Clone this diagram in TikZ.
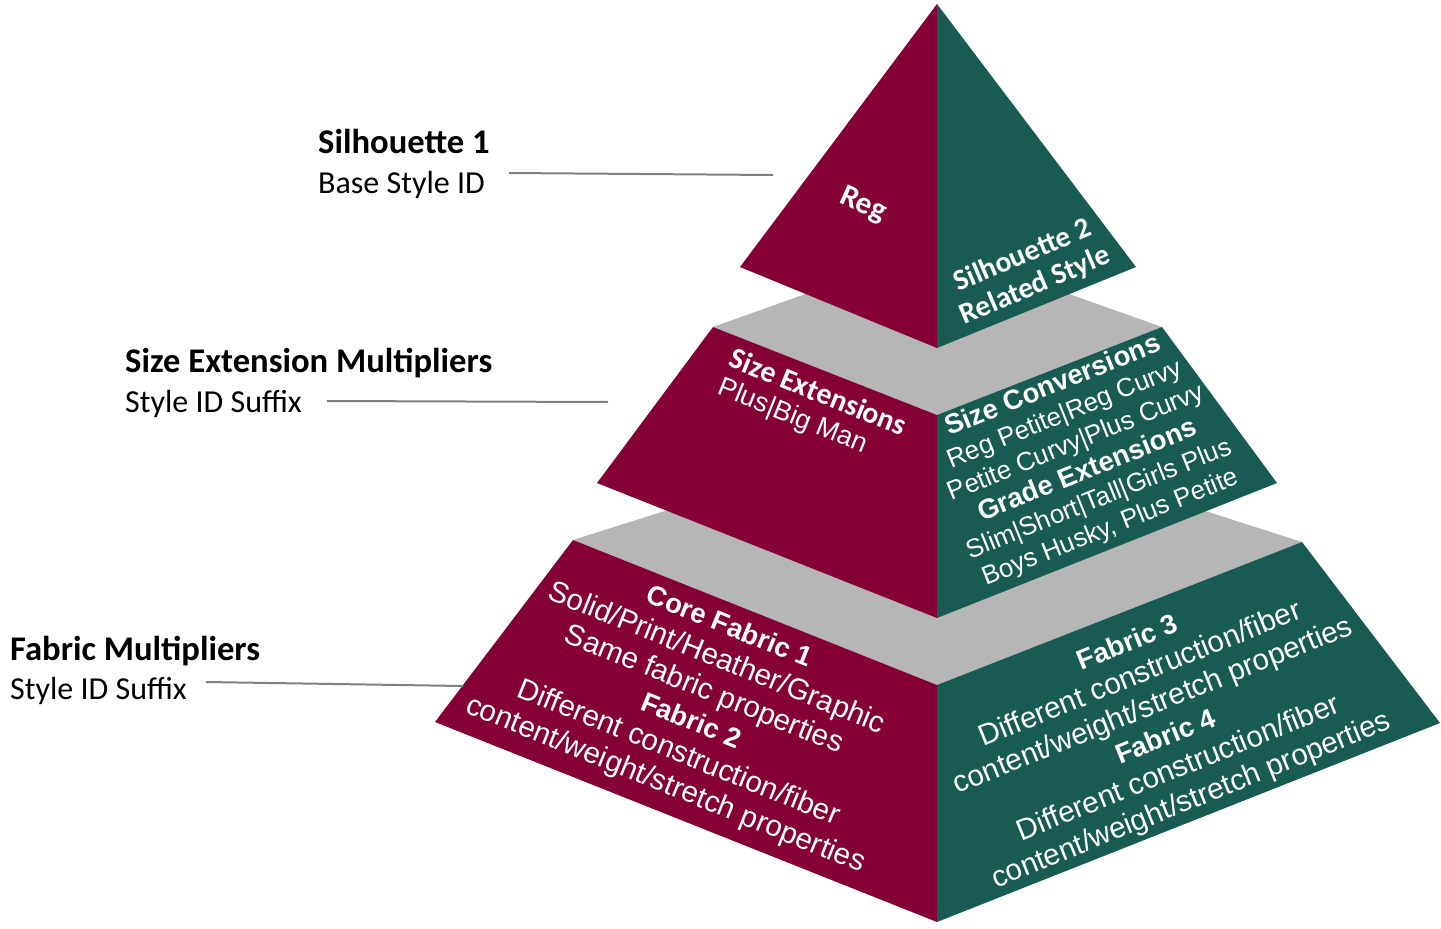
\documentclass[tikz,border=0pt]{standalone}
\usepackage{fontspec}
\setmainfont{Carlito}
\newfontfamily\arialf{Liberation Sans}
\definecolor{pyrmaroon}{HTML}{850035}
\definecolor{pyrgreen}{HTML}{175B53}
\definecolor{pyrgray}{HTML}{B6B6B6}
\definecolor{leadergray}{HTML}{808080}
\tikzset{
  lface/.style={fill=pyrmaroon},
  rface/.style={fill=pyrgreen},
  topface/.style={fill=pyrgray},
  facetext/.style={text=white, inner sep=0pt, align=center},
  lbl/.style={anchor=base west, inner sep=0pt, text=black},
  lblhead/.style={lbl, font=\fontsize{34.6}{40}\selectfont\bfseries},
  lblsub/.style={lbl, font=\fontsize{32}{40}\selectfont},
  leader/.style={draw=leadergray, line width=2pt},
}
\begin{document}
\begin{tikzpicture}[x=1pt,y=-1pt]
\useasboundingbox (0,0) rectangle (1441,929);
% --- geometry
\coordinate (A) at (937,4);
\coordinate (TL) at (740,267);
\coordinate (TR) at (1136,267);
\coordinate (TB) at (937,348);
\coordinate (ML) at (713,327);
\coordinate (MR) at (1162,327);
\coordinate (MF) at (937,415);
\coordinate (MBack) at (937,247);
\coordinate (MBL) at (597,483);
\coordinate (MBR) at (1277,483);
\coordinate (MBF) at (937,618);
\coordinate (BL) at (573,540);
\coordinate (BR) at (1302,542);
\coordinate (BF) at (937,685);
\coordinate (BBack) at (937,425);
\coordinate (BBL) at (435,722);
\coordinate (BBR) at (1440,723);
\coordinate (BBF) at (937,922);
% --- bottom tier
\fill[topface] (BL) -- (BBack) -- (BR) -- (BF) -- cycle;
\fill[lface] (BL) -- (BF) -- (BBF) -- (BBL) -- cycle;
\fill[rface] (BF) -- (BR) -- (BBR) -- (BBF) -- cycle;
% --- middle tier
\fill[topface] (ML) -- (MBack) -- (MR) -- (MF) -- cycle;
\fill[lface] (ML) -- (MF) -- (MBF) -- (MBL) -- cycle;
\fill[rface] (MF) -- (MR) -- (MBR) -- (MBF) -- cycle;
% --- top pyramid
\fill[lface] (A) -- (TB) -- (TL) -- cycle;
\fill[rface] (A) -- (TR) -- (TB) -- cycle;

% --- face texts
\node[facetext, rotate=-24, font=\fontsize{31}{34}\selectfont\bfseries] (reg) at (863,205) {Reg};
\node[facetext, rotate=23, font=\fontsize{29.5}{32.5}\selectfont\bfseries] (sil2) at (1029,271) {Silhouette 2\\Related Style};
\node[facetext, align=left, rotate=-22, font=\fontsize{27}{30}\selectfont] (sizeext) at (812,408)
  {{\fontsize{30}{30}\selectfont\bfseries Size Extensions}\\{\arialf Plus|Big Man}};
\node[facetext, rotate=22, font=\arialf\fontsize{26}{30.5}\selectfont] (sizeconv) at (1082,457)
  {{\fontsize{27.5}{30.5}\selectfont\bfseries Size Conversions}\\Reg Petite|Reg Curvy\\Petite Curvy|Plus Curvy\\{\fontsize{27.5}{30.5}\selectfont\bfseries Grade Extensions}\\Slim|Short|Tall|Girls Plus\\Boys Husky, Plus Petite};
\node[facetext, rotate=-22, font=\arialf\fontsize{29.6}{34}\selectfont] (fab12) at (697,707)
  {{\fontsize{27.5}{34}\selectfont\bfseries Core Fabric 1}\\Solid/Print/Heather/Graphic\\Same fabric properties\\{\fontsize{27.5}{34}\selectfont\bfseries Fabric 2}\\Different construction/fiber\\content/weight/stretch properties};
\node[facetext, rotate=22, font=\arialf\fontsize{29.6}{34}\selectfont] (fab34) at (1160,723)
  {{\fontsize{27.5}{34}\selectfont\bfseries Fabric 3}\\Different construction/fiber\\content/weight/stretch properties\\{\fontsize{27.5}{34}\selectfont\bfseries Fabric 4}\\Different construction/fiber\\content/weight/stretch properties};

% --- side labels
\node[lblhead] (t1) at (318,153) {Silhouette 1};
\node[lblsub] (d1) at (318,193) {Base Style ID};
\node[lblhead] (t2) at (125,372) {Size Extension Multipliers};
\node[lblsub] (d2) at (125,412) {Style ID Suffix};
\node[lblhead] (t3) at (10,660) {Fabric Multipliers};
\node[lblsub] (d3) at (10,699) {Style ID Suffix};

% --- leader lines
\coordinate (l1a) at (509,173);
\coordinate (l1b) at (773,175);
\coordinate (l2a) at (327,401);
\coordinate (l2b) at (608,402);
\coordinate (l3a) at (206,682);
\coordinate (l3b) at (463,686);
\draw[leader] (l1a) -- (l1b);
\draw[leader] (l2a) -- (l2b);
\draw[leader] (l3a) -- (l3b);
\end{tikzpicture}
\end{document}
